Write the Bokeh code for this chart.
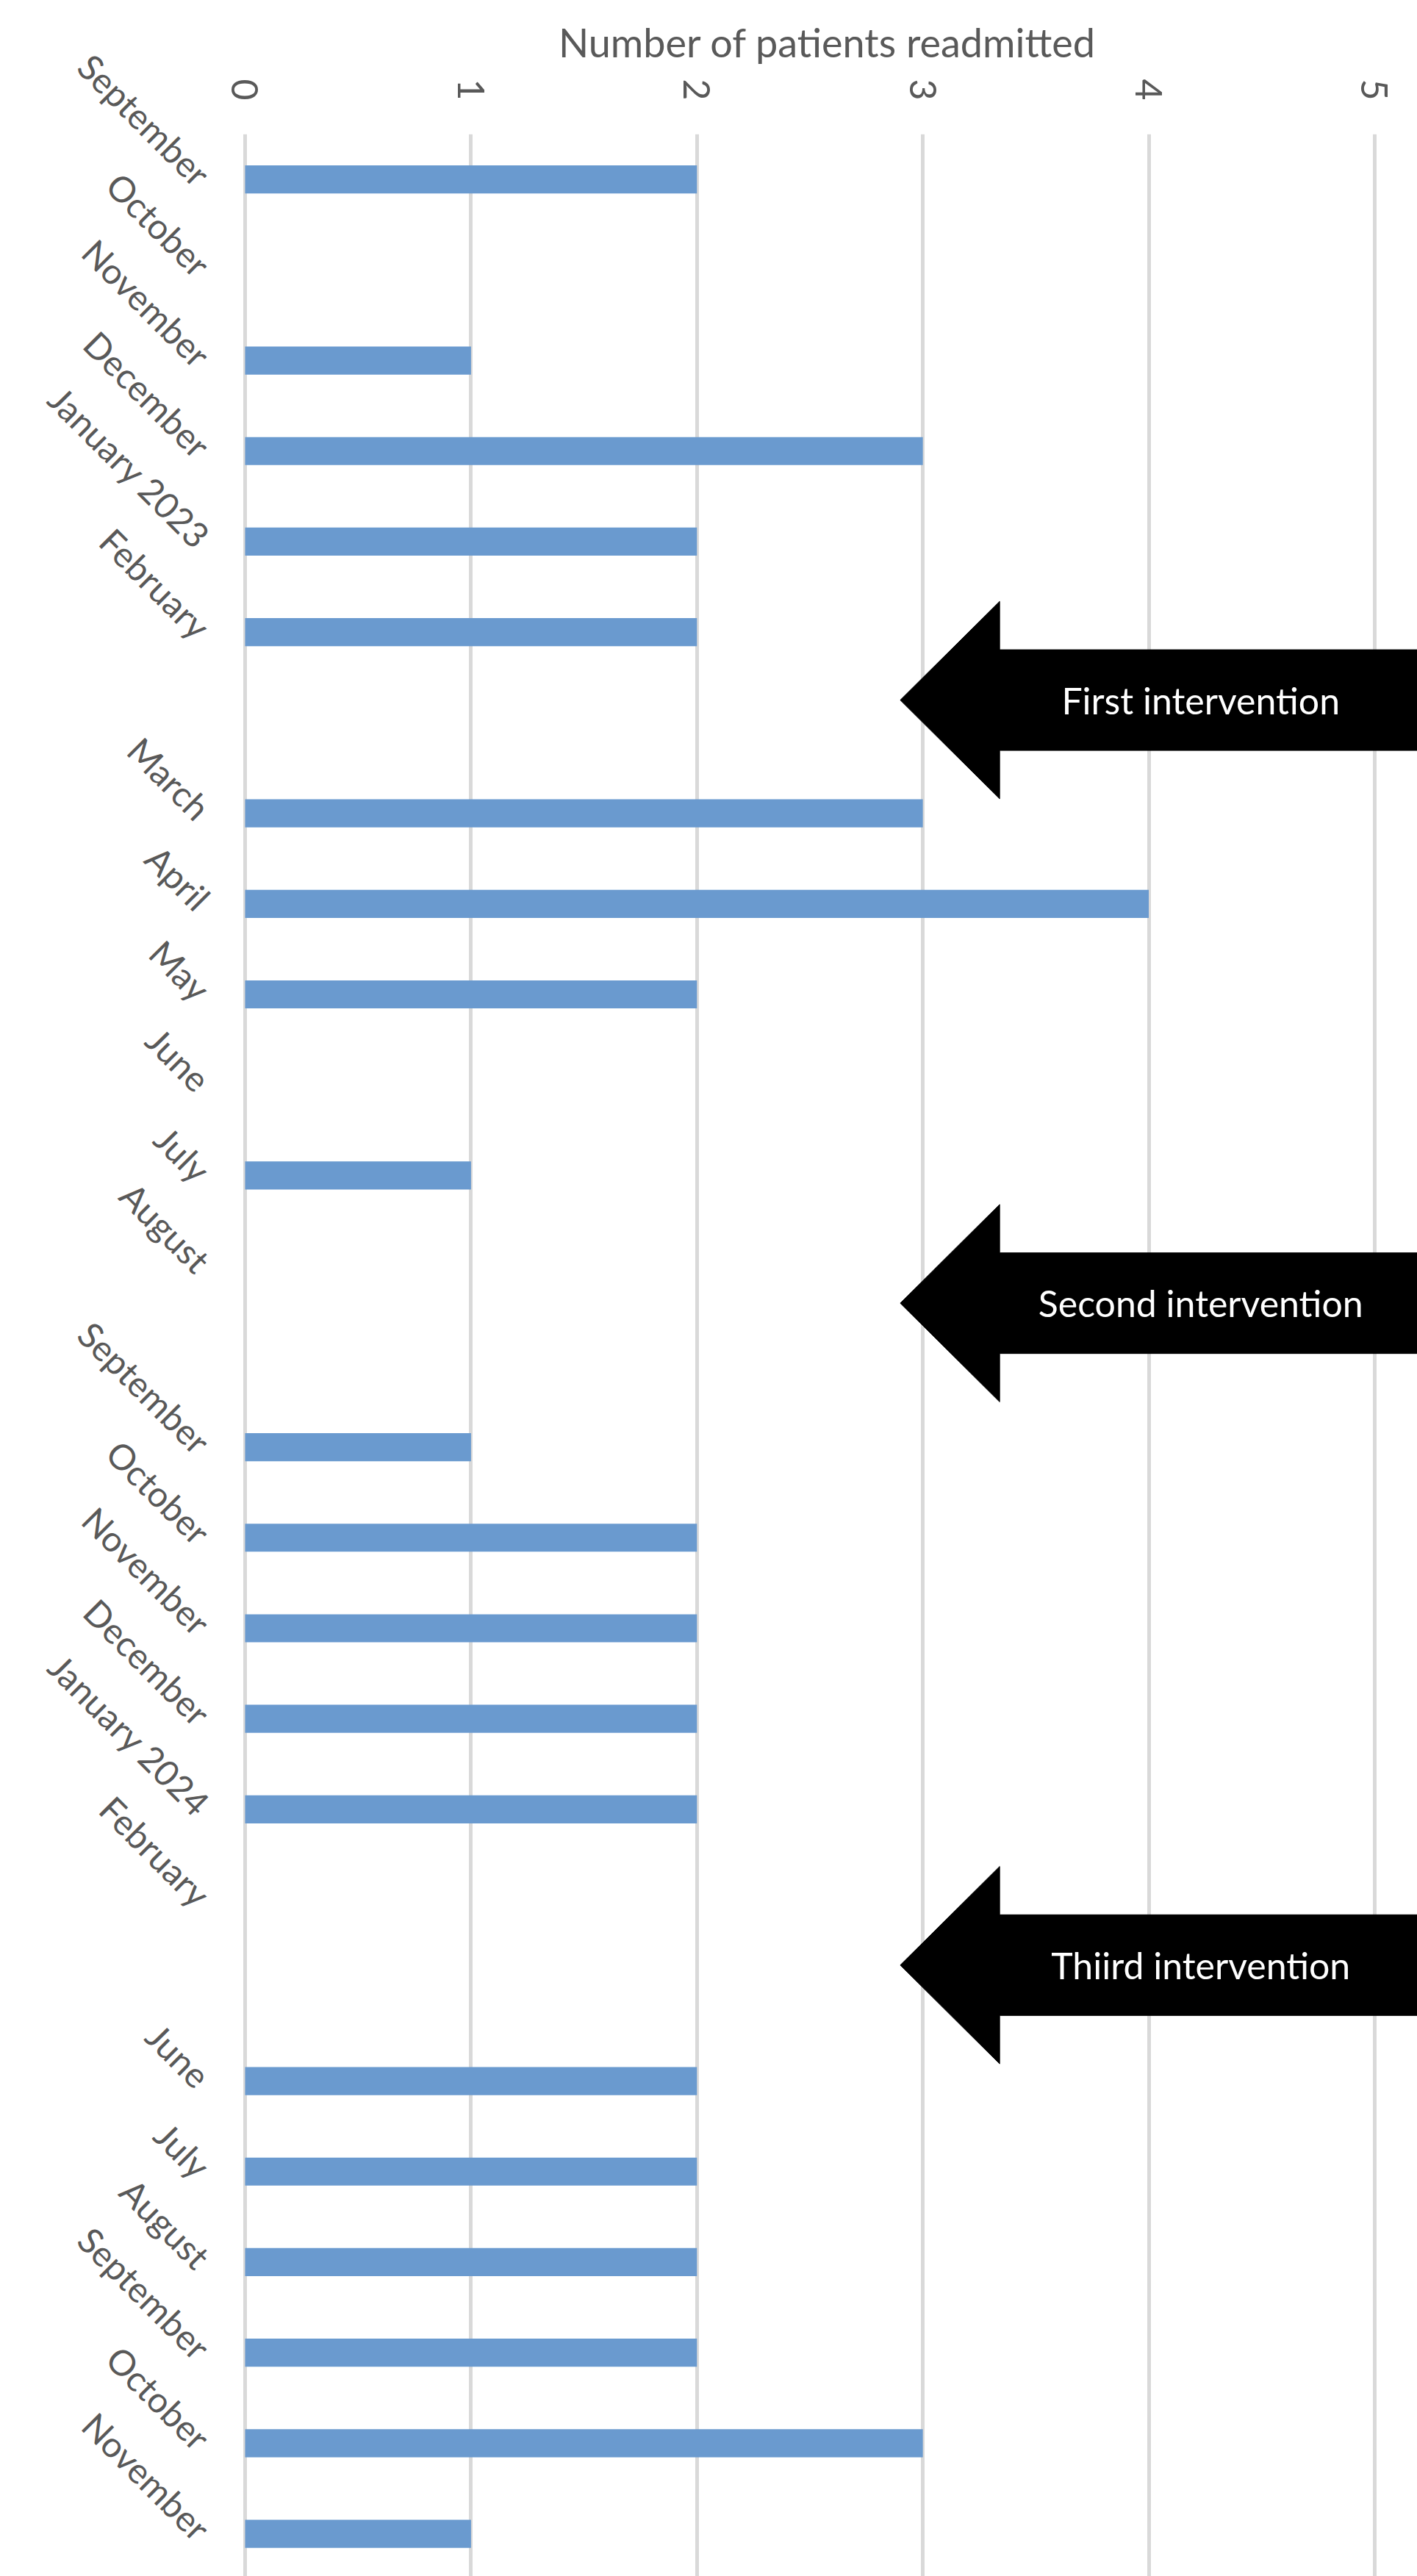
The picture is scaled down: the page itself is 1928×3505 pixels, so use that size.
import math
from bokeh.plotting import figure
from bokeh.models import Range1d, FixedTicker, ColumnDataSource
from bokeh.core.properties import value
from bokeh.embed import file_html
from bokeh.resources import INLINE

# ---- data ----
months = ["September", "October", "November", "December", "January 2023", "February", "",
          "March", "April", "May", "June", "July", "August", "",
          "September", "October", "November", "December", "January 2024", "February", "",
          "June", "July", "August", "September", "October", "November"]
readmitted = [2, 0, 1, 3, 2, 2, None,
              3, 4, 2, 0, 1, 0, None,
              1, 2, 2, 2, 2, 0, None,
              2, 2, 2, 2, 3, 1]
x_ticks = [0, 1, 2, 3, 4, 5]
interventions = ["First intervention", "Second intervention", "Thiird intervention"]
intervention_rows = [5.75, 12.41, 19.72]

# ---- styling ----
FONT = "Lato"
GREY = "#595959"
BAR = "#6A9ACF"

rows = list(range(len(months)))
src = ColumnDataSource(dict(y=rows, right=[float("nan") if v is None else v for v in readmitted]))

p = figure(width=1928, height=3505, output_backend="svg", toolbar_location=None,
           x_range=Range1d(-0.0325, 5.189), y_range=Range1d(26.47, -0.5),
           x_axis_location="above", min_border_left=323, min_border_right=0,
           min_border_top=182, min_border_bottom=0)
p.outline_line_color = None
p.background_fill_color = "white"
p.border_fill_color = "white"

p.hbar(y="y", left=0, right="right", height=0.31, source=src,
       fill_color=BAR, line_color=None)

# arrows
tip_x = 2.9
head_len = 0.44
head_half = 1.09
shaft_half = 0.556
end_x = 5.6
xs, ys = [], []
for r in intervention_rows:
    xs.append([tip_x, tip_x + head_len, tip_x + head_len, end_x, end_x, tip_x + head_len, tip_x + head_len])
    ys.append([r, r - head_half, r - shaft_half, r - shaft_half, r + shaft_half, r + shaft_half, r + head_half])
p.patches(xs, ys, fill_color="black", line_color="black", line_width=1)
p.text(x=[4.23] * len(interventions), y=intervention_rows, text=interventions,
       text_color="white", text_font=value(FONT), text_font_size="50px",
       text_align="center", text_baseline="middle")

# x axis (top)
xa = p.xaxis[0]
xa.ticker = FixedTicker(ticks=x_ticks)
xa.axis_line_color = None
xa.major_tick_line_color = None
xa.minor_tick_line_color = None
xa.major_label_orientation = -math.pi / 2
xa.major_label_text_font = FONT
xa.major_label_text_font_size = "50px"
xa.major_label_text_color = GREY
xa.major_label_standoff = 40
xa.axis_label = "Number of patients readmitted"
xa.axis_label_text_font = FONT
xa.axis_label_text_font_size = "54px"
xa.axis_label_text_font_style = "normal"
xa.axis_label_text_color = GREY
xa.axis_label_standoff = 14

# y axis (left)
ya = p.yaxis[0]
ya.ticker = FixedTicker(ticks=rows)
ya.major_label_overrides = {i: m for i, m in enumerate(months)}
ya.axis_line_color = None
ya.major_tick_line_color = None
ya.minor_tick_line_color = None
ya.major_label_orientation = -math.pi / 4
ya.major_label_text_font = FONT
ya.major_label_text_font_size = "48px"
ya.major_label_text_color = GREY
ya.major_label_standoff = 40

p.ygrid.visible = False
p.xgrid.ticker = FixedTicker(ticks=x_ticks)
p.xgrid.grid_line_color = "#D9D9D9"
p.xgrid.grid_line_width = 5

open("out.html", "w").write(file_html(p, INLINE))
